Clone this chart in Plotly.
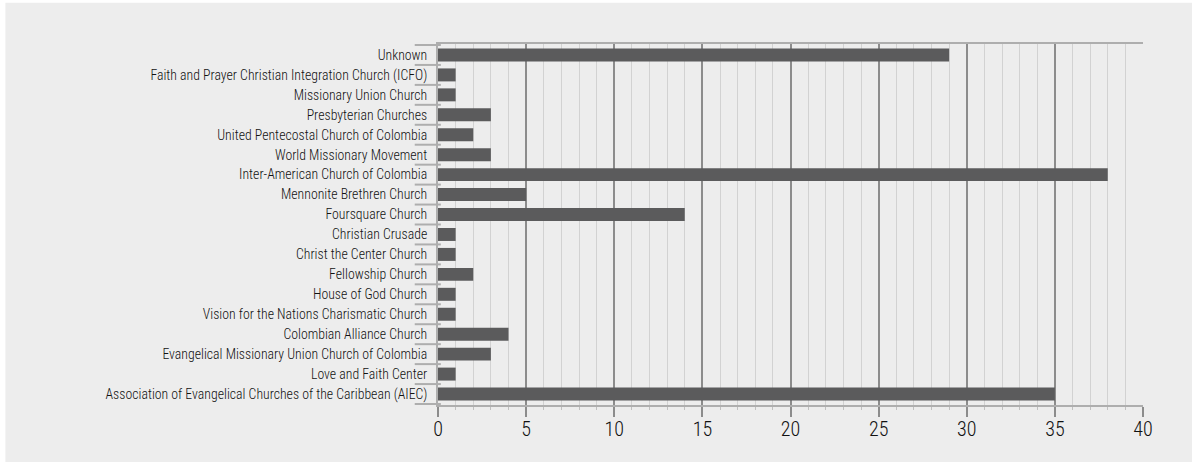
import plotly.graph_objects as go

categories = [
    "Unknown",
    "Faith and Prayer Christian Integration Church (ICFO)",
    "Missionary Union Church",
    "Presbyterian Churches",
    "United Pentecostal Church of Colombia",
    "World Missionary Movement",
    "Inter-American Church of Colombia",
    "Mennonite Brethren Church",
    "Foursquare Church",
    "Christian Crusade",
    "Christ the Center Church",
    "Fellowship Church",
    "House of God Church",
    "Vision for the Nations Charismatic Church",
    "Colombian Alliance Church",
    "Evangelical Missionary Union Church of Colombia",
    "Love and Faith Center",
    "Association of Evangelical Churches of the Caribbean (AIEC)",
]
values = [29, 1, 1, 3, 2, 3, 38, 5, 14, 1, 1, 2, 1, 1, 4, 3, 1, 35]
x_ticks = [0, 5, 10, 15, 20, 25, 30, 35, 40]

FONT = "Roboto Condensed, Liberation Sans Narrow, sans-serif"
BG = "#ededed"

fig = go.Figure(
    go.Bar(
        x=values,
        y=categories,
        orientation="h",
        marker=dict(color="#5b5b5c", line=dict(width=0)),
        width=0.65,
        hoverinfo="x+y",
    )
)

shapes = [
    # grey panel behind everything
    dict(type="rect", xref="paper", yref="paper", x0=-0.6136, x1=1.08,
         y0=-0.158, y1=1.114, fillcolor=BG, line=dict(width=0), layer="below"),
]
# category boundary ticks on the y axis
for i in range(len(categories) + 1):
    shapes.append(dict(type="line", xref="paper", yref="y",
                       x0=-0.033, x1=0.004, y0=i - 0.5, y1=i - 0.5,
                       line=dict(color="#aeaeae", width=2), layer="above"))

fig.update_layout(
    width=1192, height=463,
    margin=dict(l=438, r=49, t=44, b=58),
    paper_bgcolor="white",
    plot_bgcolor=BG,
    showlegend=False,
    font=dict(family=FONT, color="#111111", weight=350),
    shapes=shapes,
    xaxis=dict(
        range=[0, 40],
        tickvals=x_ticks,
        tickfont=dict(size=20, family=FONT, color="#111111", weight=350),
        ticklabelstandoff=-5,
        showgrid=True, gridcolor="#8c8c8c", gridwidth=2,
        ticks="outside", ticklen=10, tickwidth=2, tickcolor="#8c8c8c",
        showline=True, linecolor="#aeaeae", linewidth=2, mirror=True,
        zeroline=False,
        minor=dict(dtick=1, showgrid=True, gridcolor="#d2d2d2", gridwidth=1,
                   ticks="outside", ticklen=3, tickcolor="#c0c0c0", tickwidth=1),
        layer="below traces",
    ),
    yaxis=dict(
        autorange="reversed",
        tickfont=dict(size=13.8, family=FONT, color="#111111", weight=350),
        ticks="", ticklabelstandoff=6,
        showgrid=False,
        showline=True, linecolor="#aeaeae", linewidth=2, mirror=False,
        zeroline=False,
    ),
    bargap=0.35,
)

fig.write_html("out.html")
